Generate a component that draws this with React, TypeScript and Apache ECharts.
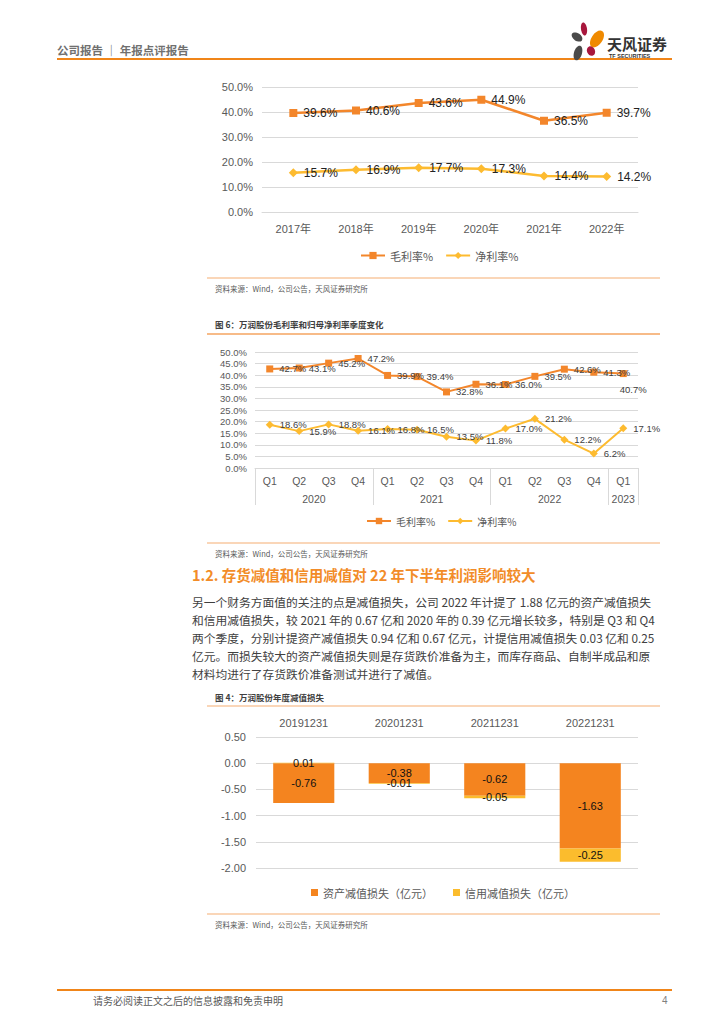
import React, { useEffect, useRef } from "react";
import * as echarts from "echarts";

// ---------- data ----------
const years1 = ["2017年", "2018年", "2019年", "2020年", "2021年", "2022年"];
const gross1 = [39.6, 40.6, 43.6, 44.9, 36.5, 39.7];
const net1 = [15.7, 16.9, 17.7, 17.3, 14.4, 14.2];

const quarters = ["Q1", "Q2", "Q3", "Q4", "Q1", "Q2", "Q3", "Q4", "Q1", "Q2", "Q3", "Q4", "Q1"];
const yearGroups = ["2020", "2021", "2022", "2023"];
const yearGroupSizes = [4, 4, 4, 1];
const gross2 = [42.7, 43.1, 45.2, 47.2, 39.9, 39.4, 32.8, 36.1, 36.0, 39.5, 42.6, 41.3, 40.7];
const net2 = [18.6, 15.9, 18.8, 16.1, 16.8, 16.5, 13.5, 11.8, 17.0, 21.2, 12.2, 6.2, 17.1];

const dates3 = ["20191231", "20201231", "20211231", "20221231"];
const assetLoss = [-0.76, -0.38, -0.62, -1.63];
const creditLoss = [0.01, -0.01, -0.05, -0.25];

const paragraph = [
  "另一个财务方面值的关注的点是减值损失，公司 2022 年计提了 1.88 亿元的资产减值损失",
  "和信用减值损失，较 2021 年的 0.67 亿和 2020 年的 0.39 亿元增长较多，特别是 Q3 和 Q4",
  "两个季度，分别计提资产减值损失 0.94 亿和 0.67 亿元，计提信用减值损失 0.03 亿和 0.25",
  "亿元。而损失较大的资产减值损失则是存货跌价准备为主，而库存商品、自制半成品和原",
  "材料均进行了存货跌价准备测试并进行了减值。",
];

// ---------- styles ----------
const FONT = '"Liberation Sans", "Noto Sans CJK SC", sans-serif';
const CJK = '"Noto Sans CJK SC", "Liberation Sans", sans-serif';
const ORANGE = "#F3862B";
const GOLD = "#FDBB30";
const BAR_ORANGE = "#F4841F";
const BAR_GOLD = "#FBBC2D";
const GRID_LINE = "#D9D9D9";
const AXIS_TEXT = "#595959";
const HEAD_ORANGE = "#F08519";
const LIGHT_ORANGE = "#F9C9A0";

function yearCenters(): Record<string, string> {
  const map: Record<string, string> = {};
  let start = 0;
  yearGroups.forEach((y, i) => {
    const c = start + yearGroupSizes[i] / 2;
    map[String(c)] = y;
    start += yearGroupSizes[i];
  });
  return map;
}
function groupStarts(): number[] {
  const s: number[] = [];
  let start = 0;
  yearGroupSizes.forEach((n) => {
    s.push(start);
    start += n;
  });
  return s;
}

function hline(x1: number, x2: number, y: number, color: string, w: number) {
  return { type: "line", shape: { x1, y1: y, x2, y2: y }, style: { stroke: color, lineWidth: w }, silent: true };
}
function txt(x: number, y: number, text: string, size: number, color: string, extra: any = {}) {
  return {
    type: "text",
    x,
    y,
    style: { text, fontSize: size, fill: color, fontFamily: CJK, textVerticalAlign: "middle", ...extra },
    silent: true,
  };
}
function petal(cx: number, cy: number, rx: number, ry: number, rot: number, color: string) {
  return { type: "ellipse", x: cx, y: cy, rotation: rot, shape: { cx: 0, cy: 0, rx, ry }, style: { fill: color }, silent: true };
}

export default function App() {
  const ref = useRef<HTMLDivElement>(null);

  useEffect(() => {
    if (!ref.current) return;
    const chart = echarts.init(ref.current, null, { renderer: "svg" });
    const centers = yearCenters();
    const starts = groupStarts();

    const lineLabel = (size: number, color: string) => ({
      show: true,
      position: "right",
      distance: 6,
      fontSize: size,
      color,
      fontFamily: FONT,
      formatter: (p: any) => Number(p.value).toFixed(1) + "%",
    });
    const barLabel = {
      show: true,
      position: "inside",
      fontSize: 11,
      color: "#111",
      fontFamily: FONT,
      formatter: (p: any) => Number(p.value).toFixed(2),
    };

    // last quarterly gross-margin label sits below its point in the reference
    const gross2Data = gross2.map((v, i) =>
      i === gross2.length - 1 ? { value: v, label: { position: "bottom", offset: [10, 2] } } : v
    );

    const graphic: any[] = [
      // header
      txt(57, 50, "公司报告 ｜ 年报点评报告", 11.5, "#707070", { fontWeight: "bold" }),
      hline(57, 672, 59, HEAD_ORANGE, 2),
      petal(577, 37, 6, 3.8, -0.6, "#4A4A4A"),
      petal(584, 29, 3, 6.5, 0.15, "#A8173D"),
      petal(597, 39, 5.5, 9.5, -0.6, "#F08A00"),
      petal(578, 53, 4, 7.5, -0.3, "#4A4A4A"),
      petal(591, 51, 4, 5, 0.4, "#A8173D"),
      txt(607, 43, "天风证券", 15, "#333333", { fontWeight: "bold" }),
      txt(609, 55.5, "TF SECURITIES", 5.5, "#333333", { fontWeight: "bold", fontFamily: FONT }),
      // chart 1 footer
      hline(207, 660, 278, LIGHT_ORANGE, 1.5),
      txt(215, 288, "资料来源：Wind，公司公告，天风证券研究所", 7.5, "#595959"),
      // chart 2 title
      txt(215, 324, "图 6：万润股份毛利率和归母净利率季度变化", 8.5, "#404040", { fontWeight: "bold" }),
      hline(207, 660, 334, "#F4A460", 1.5),
      hline(207, 660, 543, LIGHT_ORANGE, 1.5),
      txt(215, 553, "资料来源：Wind，公司公告，天风证券研究所", 7.5, "#595959"),
      // section heading
      txt(192, 574, "1.2. 存货减值和信用减值对 22 年下半年利润影响较大", 14.5, "#F28C28", { fontWeight: "bold" }),
      // chart 3 title
      txt(215, 697, "图 4：万润股份年度减值损失", 8.5, "#404040", { fontWeight: "bold" }),
      hline(207, 660, 706, LIGHT_ORANGE, 1.5),
      hline(207, 660, 914, LIGHT_ORANGE, 1.5),
      txt(215, 924, "资料来源：Wind，公司公告，天风证券研究所", 7.5, "#595959"),
      // footer
      hline(57, 672, 990, HEAD_ORANGE, 2),
      txt(93, 1000, "请务必阅读正文之后的信息披露和免责申明", 10, "#595959"),
      txt(662, 1000, "4", 10, "#808080", { fontFamily: FONT }),
    ];
    paragraph.forEach((line, i) => {
      graphic.push(txt(192, 601 + i * 18, line, 11.75, "#404040"));
    });

    chart.setOption({
      animation: false,
      textStyle: { fontFamily: FONT },
      grid: [
        { left: 262, top: 87, width: 376, height: 125 },
        { left: 255, top: 352, width: 383, height: 116 },
        { left: 256, top: 737, width: 382, height: 131 },
        { left: 255, top: 352, width: 383, height: 116 },
      ],
      xAxis: [
        {
          type: "category",
          gridIndex: 0,
          data: years1,
          axisLine: { lineStyle: { color: GRID_LINE } },
          axisTick: { show: false },
          axisLabel: { color: AXIS_TEXT, fontSize: 11, margin: 11, fontFamily: FONT },
        },
        {
          type: "category",
          gridIndex: 1,
          data: quarters,
          axisLine: { lineStyle: { color: GRID_LINE } },
          axisTick: {
            show: true,
            alignWithLabel: false,
            length: 37,
            interval: (idx: number) => starts.indexOf(idx) >= 0,
            lineStyle: { color: GRID_LINE },
          },
          axisLabel: { color: AXIS_TEXT, fontSize: 10.5, margin: 8, interval: 0, fontFamily: FONT },
        },
        {
          type: "category",
          gridIndex: 2,
          position: "top",
          data: dates3,
          axisLine: { show: false },
          axisTick: { show: false },
          axisLabel: { color: AXIS_TEXT, fontSize: 11, margin: 9, fontFamily: FONT },
        },
        {
          type: "value",
          gridIndex: 3,
          min: 0,
          max: quarters.length,
          interval: 0.5,
          axisLine: { show: false },
          axisTick: { show: false },
          splitLine: { show: false },
          axisLabel: {
            color: AXIS_TEXT,
            fontSize: 10.5,
            margin: 26,
            fontFamily: FONT,
            formatter: (v: number) => centers[String(v)] || "",
          },
        },
      ],
      yAxis: [
        {
          type: "value",
          gridIndex: 0,
          min: 0,
          max: 50,
          interval: 10,
          axisLine: { show: false },
          axisTick: { show: false },
          splitLine: { lineStyle: { color: GRID_LINE } },
          axisLabel: { color: AXIS_TEXT, fontSize: 11, margin: 9, formatter: (v: number) => v.toFixed(1) + "%" },
        },
        {
          type: "value",
          gridIndex: 1,
          min: 0,
          max: 50,
          interval: 5,
          axisLine: { show: false },
          axisTick: { show: false },
          splitLine: { lineStyle: { color: GRID_LINE } },
          axisLabel: { color: AXIS_TEXT, fontSize: 9.5, margin: 8, formatter: (v: number) => v.toFixed(1) + "%" },
        },
        {
          type: "value",
          gridIndex: 2,
          min: -2,
          max: 0.5,
          interval: 0.5,
          axisLine: { show: false },
          axisTick: { show: false },
          splitLine: { lineStyle: { color: GRID_LINE } },
          axisLabel: { color: AXIS_TEXT, fontSize: 11, margin: 10, formatter: (v: number) => v.toFixed(2) },
        },
        { type: "value", gridIndex: 3, show: false },
      ],
      legend: [
        {
          left: 355,
          top: 245,
          itemWidth: 24,
          itemHeight: 9,
          itemGap: 12,
          data: ["毛利率%", "净利率%"],
          textStyle: { color: AXIS_TEXT, fontSize: 11, fontFamily: CJK },
        },
        {
          left: 361,
          top: 511,
          itemWidth: 24,
          itemHeight: 8,
          itemGap: 12,
          data: ["毛利率%", "净利率%"],
          textStyle: { color: AXIS_TEXT, fontSize: 10, fontFamily: CJK },
        },
        {
          left: 306,
          top: 882,
          icon: "rect",
          itemWidth: 7,
          itemHeight: 7,
          itemGap: 20,
          data: ["资产减值损失（亿元）", "信用减值损失（亿元）"],
          textStyle: { color: AXIS_TEXT, fontSize: 11, fontFamily: CJK },
        },
      ],
      series: [
        {
          name: "毛利率%",
          type: "line",
          xAxisIndex: 0,
          yAxisIndex: 0,
          data: gross1,
          symbol: "rect",
          symbolSize: 8,
          itemStyle: { color: ORANGE },
          lineStyle: { color: ORANGE, width: 2.5 },
          label: lineLabel(12, "#222"),
        },
        {
          name: "净利率%",
          type: "line",
          xAxisIndex: 0,
          yAxisIndex: 0,
          data: net1,
          symbol: "diamond",
          symbolSize: 9,
          itemStyle: { color: GOLD },
          lineStyle: { color: GOLD, width: 2.5 },
          label: lineLabel(12, "#222"),
        },
        {
          name: "毛利率%",
          type: "line",
          xAxisIndex: 1,
          yAxisIndex: 1,
          data: gross2Data,
          symbol: "rect",
          symbolSize: 7,
          itemStyle: { color: ORANGE },
          lineStyle: { color: ORANGE, width: 2 },
          label: lineLabel(9.5, "#404040"),
        },
        {
          name: "净利率%",
          type: "line",
          xAxisIndex: 1,
          yAxisIndex: 1,
          data: net2,
          symbol: "diamond",
          symbolSize: 8,
          itemStyle: { color: GOLD },
          lineStyle: { color: GOLD, width: 2 },
          label: lineLabel(9.5, "#404040"),
        },
        {
          name: "资产减值损失（亿元）",
          type: "bar",
          xAxisIndex: 2,
          yAxisIndex: 2,
          stack: "loss",
          barWidth: "64%",
          data: assetLoss,
          itemStyle: { color: BAR_ORANGE },
          label: barLabel,
        },
        {
          name: "信用减值损失（亿元）",
          type: "bar",
          xAxisIndex: 2,
          yAxisIndex: 2,
          stack: "loss",
          barWidth: "64%",
          data: creditLoss,
          itemStyle: { color: BAR_GOLD },
          label: barLabel,
        },
      ],
      graphic,
    });

    return () => chart.dispose();
  }, []);

  return (
    <div
      ref={ref}
      style={{ position: "absolute", left: 0, top: 0, width: 724, height: 1024, background: "#fff" }}
    />
  );
}
